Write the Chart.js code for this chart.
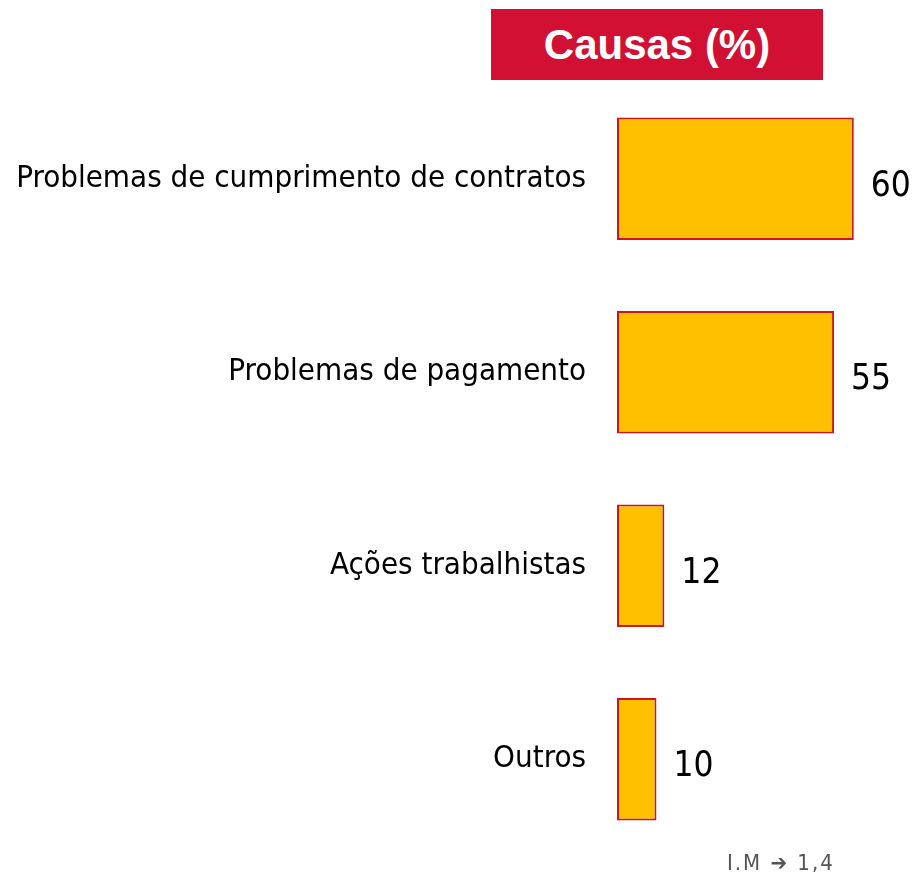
<!DOCTYPE html>
<html>
<head>
<meta charset="utf-8">
<script src="https://cdn.jsdelivr.net/npm/chart.js@4"></script>
<style>
  body { margin: 0; background: #fff; }
  .wrap { position: relative; width: 916px; height: 876px; }
  .title-box {
    position: absolute; left: 491px; top: 9px; width: 332px; height: 71px;
    background: #d21034; color: #fff;
    font: bold 42px "Liberation Sans", Arial, sans-serif;
    display: flex; align-items: center; justify-content: center;
  }
  .footer {
    position: absolute; left: 727px; top: 850px;
    font: 22px "DejaVu Sans Condensed", "DejaVu Sans", sans-serif; color: #555;
    letter-spacing: 2px;
  }
</style>
</head>
<body>
<div class="wrap">
  <canvas id="js-causes-chart" width="916" height="876"></canvas>
  <div class="title-box">Causas (%)</div>
  <div class="footer">I.M ➔ 1,4</div>
</div>
<script>
const causeLabels = ['Problemas de cumprimento de contratos', 'Problemas de pagamento', 'Ações trabalhistas', 'Outros'];
const causeValues = [60, 55, 12, 10];

const causesCanvas = document.querySelector('#js-causes-chart');

// draws the value to the right of each bar
const valueLabels = {
  id: 'valueLabels',
  afterDatasetsDraw(chart) {
    const ctx = chart.ctx;
    const meta = chart.getDatasetMeta(0);
    ctx.save();
    ctx.font = '35px "DejaVu Sans Condensed", "DejaVu Sans", sans-serif';
    ctx.fillStyle = '#000';
    ctx.textBaseline = 'alphabetic';
    meta.data.forEach((bar, i) => {
      ctx.fillText(causeValues[i], bar.x + 17, bar.y + 17);
    });
    ctx.restore();
  }
};

const causesData = {
  labels: causeLabels,
  datasets: [{
    data: causeValues,
    backgroundColor: '#ffc000',
    borderColor: '#d0141c',
    borderWidth: 2,
    borderSkipped: false,
    categoryPercentage: 0.632,
    barPercentage: 1
  }]
};

const causesConfig = {
  type: 'bar',
  data: causesData,
  options: {
    indexAxis: 'y',
    responsive: false,
    animation: false,
    layout: {
      padding: { top: 82, bottom: 20, left: 0, right: 3 }
    },
    scales: {
      x: {
        display: false,
        min: 0,
        max: 75
      },
      y: {
        grid: { display: false, drawTicks: false },
        border: { display: false },
        ticks: {
          color: '#000',
          padding: 31,
          font: { family: 'DejaVu Sans Condensed', size: 31 }
        },
        afterFit(scale) {
          scale.width = 617;
          scale.paddingTop = 0;
          scale.paddingBottom = 0;
        }
      }
    },
    plugins: {
      legend: { display: false },
      tooltip: { enabled: false }
    }
  },
  plugins: [valueLabels]
};

new Chart(causesCanvas, causesConfig);
</script>
</body>
</html>
